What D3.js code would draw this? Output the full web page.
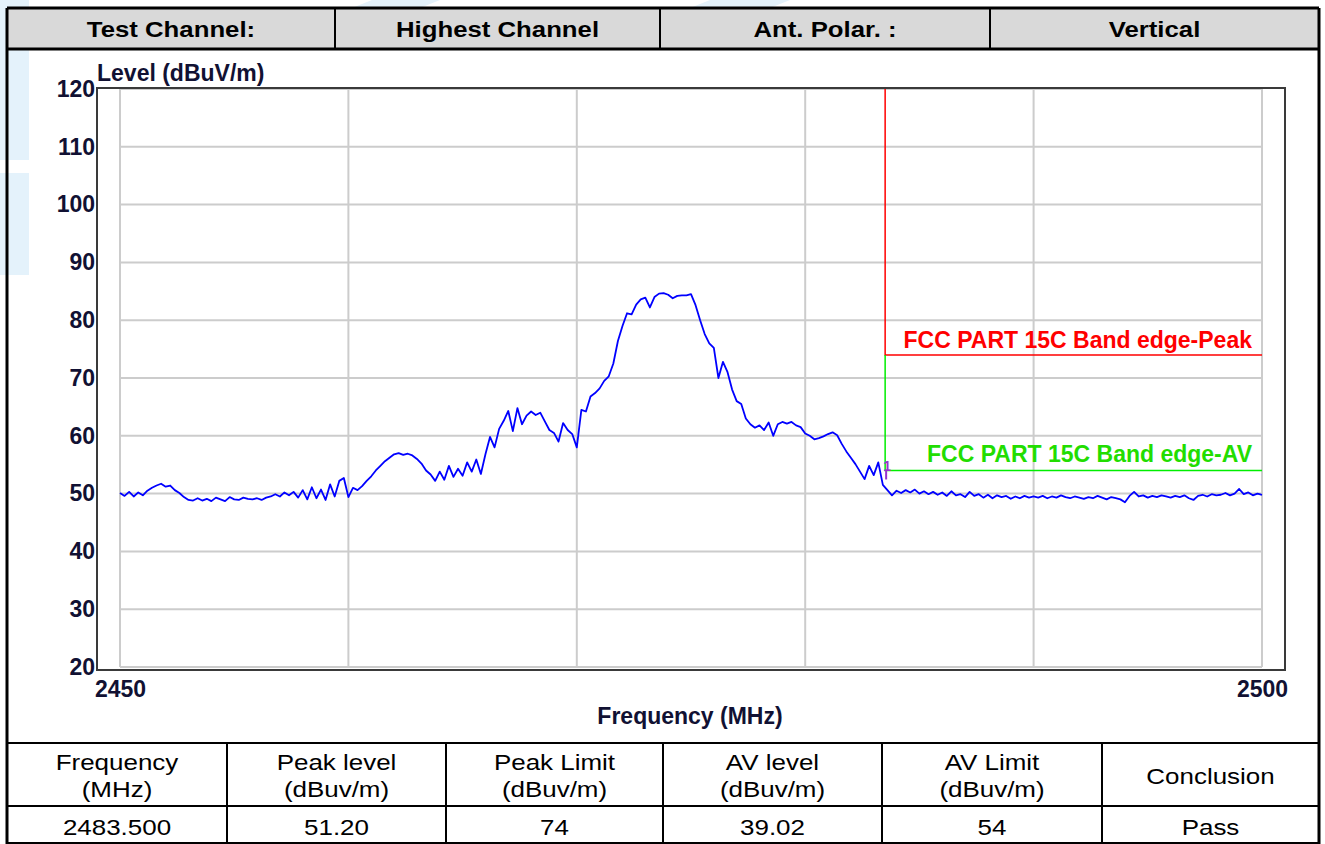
<!DOCTYPE html>
<html>
<head>
<meta charset="utf-8">
<script src="https://cdn.jsdelivr.net/npm/d3@7"></script>
<style>
  body { margin: 0; background: #fff; }
  svg { display: block; }
</style>
</head>
<body>
<svg id="chart"></svg>
<script>
// ---- data ----
var freqStart = 2450, freqStep = 0.2;   // MHz, one level every 0.2 MHz
var levels = [
  50.1, 49.6, 50.3, 49.5, 50.2, 49.7, 50.5, 51.0, 51.4, 51.7,
  51.2, 51.4, 50.6, 50.1, 49.4, 48.9, 48.8, 49.2, 48.8, 49.1,
  48.7, 49.3, 49.0, 48.7, 49.4, 49.0, 48.9, 49.3, 49.1, 49.0,
  49.2, 48.9, 49.3, 49.5, 49.9, 49.5, 50.2, 49.7, 50.3, 49.3,
  50.6, 49.0, 51.1, 49.2, 50.7, 48.9, 51.6, 49.5, 52.2, 52.7,
  49.4, 51.0, 50.6, 51.3, 52.2, 53.0, 54.0, 54.8, 55.6, 56.2,
  56.8, 57.0, 56.7, 56.9, 56.6, 56.0, 55.2, 54.0, 53.3, 52.2,
  53.8, 52.4, 54.8, 52.9, 54.3, 53.1, 55.4, 53.8, 55.9, 53.4,
  56.8, 59.8, 58.0, 61.2, 62.6, 64.3, 60.8, 64.8, 62.0, 63.5,
  64.2, 63.6, 64.0, 62.5, 61.0, 60.5, 59.0, 62.2, 61.0, 60.3,
  58.0, 64.5, 64.2, 66.8, 67.4, 68.2, 69.5, 70.3, 72.5, 76.4,
  79.0, 81.2, 81.0, 82.7, 83.6, 83.9, 82.2, 84.0, 84.6, 84.7,
  84.4, 83.8, 84.2, 84.3, 84.3, 84.5, 82.6, 80.0, 77.6, 76.0,
  75.2, 70.0, 72.8, 71.0, 68.0, 66.0, 65.5, 63.0, 62.0, 61.4,
  61.8, 61.0, 62.3, 60.0, 62.0, 62.4, 62.1, 62.4, 61.8, 61.5,
  60.4, 60.0, 59.4, 59.6, 59.9, 60.3, 60.6, 60.1, 58.6, 57.3,
  56.2, 55.1, 53.8, 52.5, 54.8, 53.2, 55.4, 51.5, 50.6, 49.7,
  50.5, 50.1, 50.6, 50.2, 50.7, 50.0, 50.4, 49.9, 50.3, 49.8,
  50.2, 49.6, 50.4, 49.7, 49.9, 49.4, 50.3, 49.6, 49.9, 49.3,
  49.8, 49.2, 49.7, 49.4, 49.6, 49.1, 49.5, 49.2, 49.6, 49.3,
  49.5,
  49.3, 49.6, 49.2, 49.5, 49.3, 49.7, 49.4, 49.2, 49.5, 49.3,
  49.1, 49.4, 49.2, 49.6, 49.3, 49.0, 49.4, 49.2, 49.0, 48.5,
  49.6, 50.3, 49.5, 49.7, 49.3, 49.6, 49.4, 49.7, 49.5, 49.3,
  49.6, 49.4, 49.7, 49.2, 48.9, 49.6, 49.8, 49.5, 49.9, 49.7,
  49.8, 50.1, 49.7, 50.0, 50.8, 49.9, 50.2, 49.7, 50.0, 49.8
];
var xTicks = [2450, 2500];
var xGrid = [2450, 2460, 2470, 2480, 2490, 2500];
var yTicks = [20, 30, 40, 50, 60, 70, 80, 90, 100, 110, 120];
var bandEdge = 2483.5, peakLimit = 74, avLimit = 54;
var peakLabel = 'FCC PART 15C Band edge-Peak';
var avLabel = 'FCC PART 15C Band edge-AV';

var headerCells = ['Test Channel:', 'Highest Channel', 'Ant. Polar. :', 'Vertical'];
var resultHeads = [['Frequency', '(MHz)'], ['Peak level', '(dBuv/m)'], ['Peak Limit', '(dBuv/m)'],
                   ['AV level', '(dBuv/m)'], ['AV Limit', '(dBuv/m)'], ['Conclusion']];
var resultRow = ['2483.500', '51.20', '74', '39.02', '54', 'Pass'];

var trace = levels.map(function(v, i){ return {f: freqStart + i * freqStep, v: v}; });

// ---- page ----
var W = 1325, H = 844;
var svg = d3.select('#chart').attr('width', W).attr('height', H);
var ink = '#111133';
var chartFont = 'Arial, "Liberation Sans", sans-serif';

// faint watermark behind the page
var wm = svg.append('g').attr('fill', '#e4f2fb');
wm.append('rect').attr('x', 0).attr('y', 0).attr('width', 29).attr('height', 160);
wm.append('rect').attr('x', 0).attr('y', 173).attr('width', 29).attr('height', 102);
wm.append('polygon').attr('points', '352,8 372,0 440,0 420,8');
wm.append('polygon').attr('points', '690,8 710,0 790,0 770,8');

var x = d3.scaleLinear().domain([2450, 2500]).range([120, 1262]);
var y = d3.scaleLinear().domain([20, 120]).range([667, 89]);

// grid
var grid = svg.append('g').attr('stroke', '#cccccc').attr('stroke-width', 2);
grid.selectAll('.vg').data(xGrid).enter().append('line')
  .attr('x1', function(d){ return x(d); }).attr('x2', function(d){ return x(d); })
  .attr('y1', y(120)).attr('y2', y(20));
grid.selectAll('.hg').data(yTicks).enter().append('line')
  .attr('x1', x(2450)).attr('x2', x(2500))
  .attr('y1', function(d){ return y(d); }).attr('y2', function(d){ return y(d); });

// frame
svg.append('rect').attr('x', 97).attr('y', 88).attr('width', 1188).attr('height', 582)
  .attr('fill', 'none').attr('stroke', '#3a3a3a').attr('stroke-width', 2);

// limit lines
var lim = svg.append('g').attr('fill', 'none').attr('stroke-width', 1.5);
lim.append('path').attr('stroke', '#ff0000')
  .attr('d', 'M' + x(bandEdge) + ',' + y(120) + 'V' + y(peakLimit) + 'H' + x(2500));
lim.append('path').attr('stroke', '#00ee00')
  .attr('d', 'M' + x(bandEdge) + ',' + y(peakLimit) + 'V' + y(avLimit) + 'H' + x(2500));

svg.append('text').attr('x', 1252).attr('y', y(peakLimit) - 7)
  .attr('text-anchor', 'end').attr('fill', '#ff0000')
  .style('font', 'bold 23px ' + chartFont).text(peakLabel);
svg.append('text').attr('x', 1252).attr('y', y(avLimit) - 8)
  .attr('text-anchor', 'end').attr('fill', '#22dd00')
  .style('font', 'bold 23px ' + chartFont).text(avLabel);

// trace
var line = d3.line().x(function(d){ return x(d.f); }).y(function(d){ return y(d.v); });
svg.append('path').datum(trace).attr('d', line)
  .attr('fill', 'none').attr('stroke', '#0000ff').attr('stroke-width', 1.8)
  .attr('stroke-linejoin', 'round');

// marker 1 at band edge
svg.append('line').attr('x1', x(bandEdge) + 1).attr('x2', x(bandEdge) + 1)
  .attr('y1', y(avLimit)).attr('y2', y(avLimit) + 9)
  .attr('stroke', '#9933cc').attr('stroke-width', 2);
svg.append('text').attr('x', x(bandEdge) + 2).attr('y', y(avLimit) + 1)
  .attr('text-anchor', 'middle').attr('fill', '#9933cc')
  .style('font', 'bold 14px ' + chartFont).text('1');

// axes
var yAxis = svg.append('g').attr('transform', 'translate(97,0)')
  .call(d3.axisLeft(y).tickValues(yTicks).tickSize(0).tickPadding(2));
var xAxis = svg.append('g').attr('transform', 'translate(0,670)')
  .call(d3.axisBottom(x).tickValues(xTicks).tickSize(0).tickPadding(11).tickFormat(d3.format('d')));
[yAxis, xAxis].forEach(function(a){
  a.select('.domain').remove();
  a.selectAll('text').attr('fill', ink).style('font', 'bold 23px ' + chartFont);
});

svg.append('text').attr('x', 97).attr('y', 81).attr('fill', ink)
  .style('font', 'bold 23px ' + chartFont).text('Level (dBuV/m)');
svg.append('text').attr('x', 690).attr('y', 724).attr('text-anchor', 'middle').attr('fill', ink)
  .style('font', 'bold 23px ' + chartFont).text('Frequency (MHz)');

// ---- tables ----
function cellText(cx, cy, str, weight, size, sx) {
  svg.append('text')
    .attr('transform', 'translate(' + cx + ',' + cy + ') scale(' + sx + ',1)')
    .attr('text-anchor', 'middle').attr('dominant-baseline', 'central')
    .attr('fill', '#000')
    .style('font', weight + ' ' + size + 'px ' + chartFont)
    .text(str);
}

// top header row
svg.append('rect').attr('x', 7).attr('y', 8).attr('width', 1312).attr('height', 41).attr('fill', '#d9d9d9');
var headCols = [7, 335, 660, 990, 1319];
headerCells.forEach(function(t, i){
  cellText((headCols[i] + headCols[i + 1]) / 2, 29, t, 'bold', 23, 1.12);
});

// bottom result table
var resCols = [7, 227, 446, 663, 882, 1102, 1319];
resultHeads.forEach(function(lines, i){
  var cx = (resCols[i] + resCols[i + 1]) / 2;
  if (lines.length === 1) cellText(cx, 776, lines[0], 'normal', 22, 1.18);
  else {
    cellText(cx, 762, lines[0], 'normal', 22, 1.18);
    cellText(cx, 789, lines[1], 'normal', 22, 1.18);
  }
});
resultRow.forEach(function(t, i){
  cellText((resCols[i] + resCols[i + 1]) / 2, 827, t, 'normal', 22, 1.18);
});

// rules
var rules = svg.append('g').attr('stroke', '#000').attr('fill', 'none');
rules.append('path').attr('stroke-width', 3).attr('d', 'M7,8H1319 M7,49H1319');
rules.append('path').attr('stroke-width', 3).attr('d', 'M7,8V844 M1319,8V844');
rules.append('path').attr('stroke-width', 2).attr('d', 'M7,743H1319 M7,806H1319 M7,843H1319');
headCols.slice(1, -1).forEach(function(c){
  rules.append('line').attr('stroke-width', 2).attr('x1', c).attr('x2', c).attr('y1', 8).attr('y2', 49);
});
resCols.slice(1, -1).forEach(function(c){
  rules.append('line').attr('stroke-width', 2).attr('x1', c).attr('x2', c).attr('y1', 743).attr('y2', 844);
});
</script>
</body>
</html>
